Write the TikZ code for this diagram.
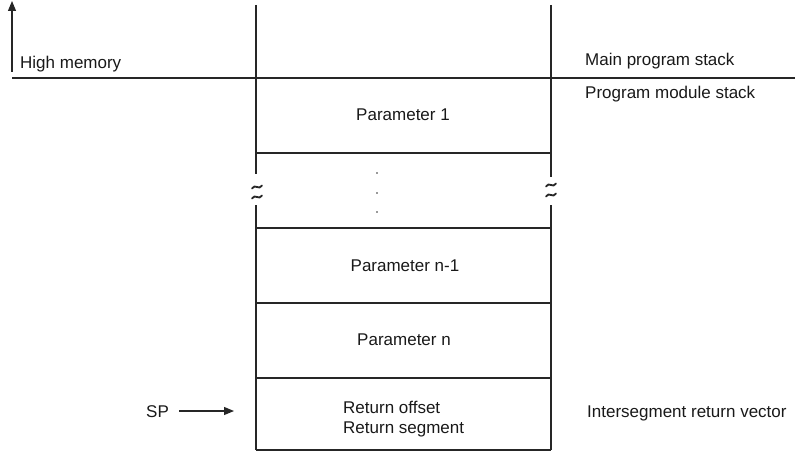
\documentclass[tikz,border=0pt]{standalone}
\usepackage{fontspec}
\setmainfont{Liberation Sans}
\usetikzlibrary{arrows.meta}
\begin{document}
\begin{tikzpicture}[x=1pt,y=-1pt,
  ln/.style={line width=1.1pt, black!85},
  lbl/.style={inner sep=0pt, font=\fontsize{17}{20}\selectfont, text=black!90},
  tip/.style={-{Triangle[length=10pt,width=8pt]}},
  brk/.style={line width=1.8pt, black!85, line cap=round}]
\useasboundingbox (0,0) rectangle (803,452);
% corners of the stack
\coordinate (tl) at (256,5);
\coordinate (tr) at (551,5);
\coordinate (bl) at (256,450);
\coordinate (br) at (551,450);
% vertical walls with breaks
\draw[ln] (tl) -- (256,174);
\draw[ln] (256,205) -- (bl);
\draw[ln] (tr) -- (551,177);
\draw[ln] (551,205) -- (br);
% horizontal lines
\coordinate (hl) at (12,78);
\coordinate (hr) at (795,78);
\draw[ln] (hl) -- (hr);
\draw[ln] (256,153) -- (551,153);
\draw[ln] (256,228) -- (551,228);
\draw[ln] (256,303) -- (551,303);
\draw[ln] (256,378) -- (551,378);
\draw[ln] (bl) -- (br);
% break marks
\foreach \cx/\cy in {257/187, 257/197, 551/185, 551/195}{
  \draw[brk, shift={(\cx,\cy)}] (-5,1.5) .. controls (-2,-4) and (2,4) .. (5,-1.5);
}
% dots
\foreach \dy in {173,193,212}{
  \fill[black!80] (377,\dy) circle (0.9);
}
% high memory arrow
\coordinate (hma) at (12,72);
\coordinate (hmb) at (12,1);
\draw[ln, tip] (hma) -- (hmb);
% texts
\node[lbl, anchor=base west] (hm) at (20,68) {High memory};
\node[lbl, anchor=base west] (mps) at (585,66) {Main program stack};
\node[lbl, anchor=base west] (pms) at (585,99) {Program module stack};
\node[lbl, anchor=base] (p1) at (403,120) {Parameter 1};
\node[lbl, anchor=base] (pn1) at (405,271) {Parameter n-1};
\node[lbl, anchor=base] (pn) at (404,345) {Parameter n};
\node[lbl, anchor=base west, align=left] (ro) at (343,413) {Return offset};
\node[lbl, anchor=base west, align=left] (rs) at (343,433) {Return segment};
\node[lbl, anchor=base west] (irv) at (587,417) {Intersegment return vector};
\node[lbl, anchor=base west] (sp) at (146,417) {SP};
\coordinate (spend) at (234,411);
\draw[ln, tip] ([xshift=10pt]sp.east |- spend) -- (spend);
\end{tikzpicture}
\end{document}
